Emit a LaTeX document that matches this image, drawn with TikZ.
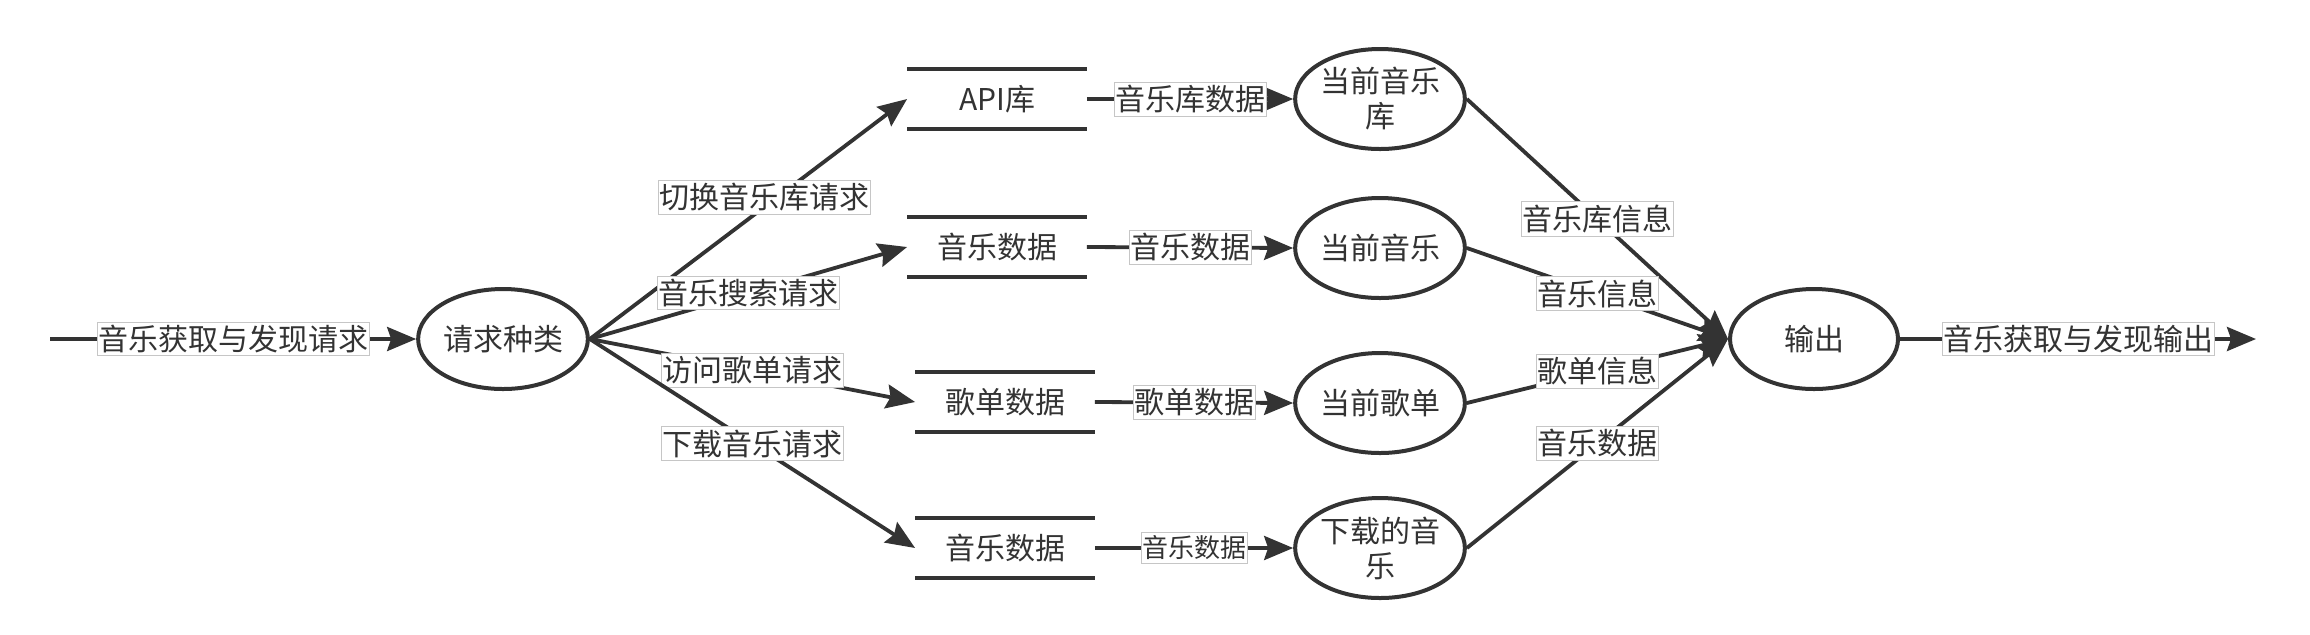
\documentclass[tikz,border=0pt]{standalone}
\usepackage{fontspec}
\setmainfont{Noto Sans CJK SC}
\usetikzlibrary{shapes.geometric,arrows.meta}

\definecolor{ink}{HTML}{333333}
\tikzset{
	proc/.style={ellipse, draw, line width=2pt, minimum width=84pt, minimum height=50pt, inner sep=0pt, align=center},
	store/.style={minimum width=89.5pt, minimum height=29.5pt, inner sep=0pt},
	storeline/.style={line width=2.2pt},
	flow/.style={line width=1.9pt, -{Stealth[length=14.5pt,width=12pt,inset=2pt]}},
	lbl/.style={fill=white, draw=gray!45, line width=0.5pt, inner xsep=0.5pt, inner ysep=1.5pt}
}

\begin{document}
\begin{tikzpicture}[x=0.5pt,y=-0.5pt,color=ink,text=ink,font=\fontsize{15pt}{17.5pt}\selectfont]
	\useasboundingbox (0,0) rectangle (2310,634);
	
	\node[proc] (req) at (503,339) {请求种类};
	\node[proc] (out) at (1814,339) {输出};
	
	\node[store] (apis) at (997,99) {API库};
	\node[store] (songs) at (997,247) {音乐数据};
	\node[store] (lists) at (1005,402) {歌单数据};
	\node[store] (down) at (1005,548) {音乐数据};
	\foreach \s in {apis,songs,lists,down}{
		\draw[storeline] (\s.north west) -- (\s.north east);
		\draw[storeline] (\s.south west) -- (\s.south east);
	}
	
	\node[proc] (curlib) at (1380,99) {当前音乐\\库};
	\node[proc] (cursong) at (1380,248) {当前音乐};
	\node[proc] (curlist) at (1380,403) {当前歌单};
	\node[proc] (dlsong) at (1380,548) {下载的音\\乐};
	
	\coordinate (src) at (50,339);
	\coordinate (sink) at (2256,339);
	
	\draw[flow] (src) -- (req.west) node[lbl,midway] {音乐获取与发现请求};
	
	\draw[flow] (req.east) -- (apis.west) node[lbl,pos=0.55,yshift=5pt] {切换音乐库请求};
	\draw[flow] (req.east) -- (songs.west) node[lbl,midway] {音乐搜索请求};
	\draw[flow] (req.east) -- (lists.west) node[lbl,midway] {访问歌单请求};
	\draw[flow] (req.east) -- (down.west) node[lbl,midway] {下载音乐请求};
	
	\draw[flow] (apis.east) -- (curlib.west) node[lbl,midway] {音乐库数据};
	\draw[flow] (songs.east) -- (cursong.west) node[lbl,midway] {音乐数据};
	\draw[flow] (lists.east) -- (curlist.west) node[lbl,midway] {歌单数据};
	\draw[flow] (down.east) -- (dlsong.west) node[lbl,midway,font=\fontsize{13pt}{15pt}\selectfont] {音乐数据};
	
	\draw[flow] (curlib.east) -- (out.west) node[lbl,midway] {音乐库信息};
	\draw[flow] (cursong.east) -- (out.west) node[lbl,midway] {音乐信息};
	\draw[flow] (curlist.east) -- (out.west) node[lbl,midway] {歌单信息};
	\draw[flow] (dlsong.east) -- (out.west) node[lbl,midway] {音乐数据};
	
	\draw[flow] (out.east) -- (sink) node[lbl,midway] {音乐获取与发现输出};
	
\end{tikzpicture}
\end{document}
